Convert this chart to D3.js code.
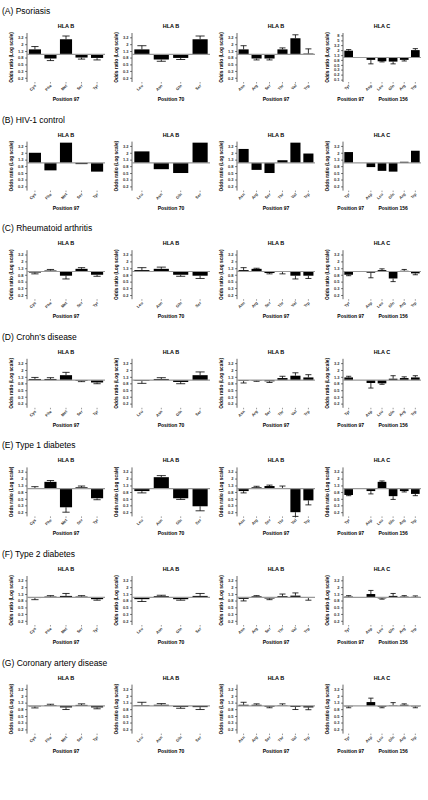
<!DOCTYPE html>
<html><head><meta charset="utf-8">
<script src="https://cdn.jsdelivr.net/npm/d3@7"></script>
<style>body{margin:0;background:#fff}text{font-family:Arial,"Liberation Sans",sans-serif}</style>
</head><body><svg id="c" width="428" height="800"></svg>
<script>
const rowTitles = ["(A) Psoriasis","(B) HIV-1 control","(C) Rheumatoid arthritis","(D) Crohn's disease","(E) Type 1 diabetes","(F) Type 2 diabetes","(G) Coronary artery disease"];
const panelTitles = ["HLA B","HLA B","HLA B","HLA C"];
const cats1 = ["Cys","Phe","Met","Ser","Tyr"];
const cats2 = ["Leu","Asn","Gln","Ser"];
const cats3 = ["Asn","Arg","Ser","Thr","Val","Trp"];
const cats4 = ["Tyr","","Asp","Leu","Gln","Arg","Trp"];
const ticks = [0.2,0.32,0.5,0.8,1.25,2,3.2];
const tickLabels = ["0.2","0.3","0.5","0.8","1.3","2","3.2"];
const ticksWide = [0.125,0.2,0.32,0.5,0.8,1.25,2,3.2,5,8];
const tickLabelsWide = ["0.1","0.2","0.3","0.5","0.8","1.3","2","3.2","5","8"];
// odds ratios and error-bar ends (null = none / empty slot)
const psoriasisOR  = [[1.4,0.75,2.8,0.8,0.78],[1.4,0.7,0.78,2.8],[1.4,0.75,0.75,1.4,3.0,1.05],[1.9,null,0.8,0.7,0.68,0.8,2.0]];
const psoriasisErr = [[1.7,0.65,3.5,0.72,0.68],[1.8,0.62,0.7,3.5],[1.8,0.68,0.68,1.55,3.8,1.45],[2.1,null,0.55,0.66,0.55,0.72,2.3]];
const hivOR  = [[2.0,0.6,4.0,0.92,0.55],[2.2,0.65,0.5,4.0],[2.6,0.62,0.5,1.2,4.0,1.9],[2.1,null,0.75,0.58,0.55,1.08,2.3]];
const hivErr = [[null,null,null,null,null],[null,null,null,null],[null,null,null,null,null,null],[null,null,null,null,null,null,null]];
const raOR  = [[0.93,1.07,0.75,1.2,0.8],[1.1,1.2,0.8,0.75],[1.1,1.2,0.9,0.97,0.75,0.75],[0.8,null,0.92,1.1,0.62,1.05,0.88]];
const raErr = [[0.85,1.15,0.6,1.3,0.72],[1.3,1.35,0.72,0.62],[1.3,1.25,0.85,0.85,0.6,0.62],[0.75,null,0.65,1.2,0.5,1.15,0.8]];
const crohnOR  = [[1.08,1.08,1.4,0.95,0.85],[0.95,1.08,0.88,1.4],[0.95,0.97,0.92,1.15,1.35,1.2],[1.2,null,0.82,0.8,1.1,1.15,1.2]];
const crohnErr = [[1.2,1.18,1.7,0.9,0.78],[0.8,1.18,0.78,1.75],[0.82,0.92,0.85,1.3,1.65,1.45],[1.3,null,0.58,0.75,1.35,1.25,1.35]];
const t1dOR  = [[1.03,1.6,0.28,1.1,0.52],[0.85,2.2,0.52,0.3],[0.85,1.1,1.2,1.05,0.2,0.45],[0.65,null,0.85,1.6,0.6,0.85,0.7]];
const t1dErr = [[1.15,1.75,0.2,1.2,0.47],[0.75,2.45,0.48,0.22],[0.75,1.18,1.28,1.2,0.15,0.33],[0.62,null,0.7,1.7,0.48,0.8,0.62]];
const t2dOR  = [[0.95,1.05,1.1,1.05,0.88],[0.88,1.08,0.88,1.1],[0.9,1.07,0.92,1.08,1.12,0.97],[1.05,null,1.25,0.93,1.1,1.05,1.03]];
const t2dErr = [[0.85,1.12,1.3,1.12,0.82],[0.75,1.15,0.82,1.3],[0.78,1.12,0.85,1.25,1.35,0.82],[1.12,null,1.6,0.88,1.3,1.12,1.1]];
const cadOR  = [[0.97,1.05,0.9,1.07,0.9],[1.05,1.08,0.93,0.92],[1.08,1.08,0.95,1.03,0.93,0.9],[0.97,null,1.3,0.95,1.03,1.08,0.97]];
const cadErr = [[0.87,1.12,0.78,1.15,0.82],[1.28,1.17,0.85,0.78],[1.28,1.15,0.88,1.15,0.78,0.77],[0.88,null,1.7,0.88,1.25,1.15,0.88]];

const allOR = [psoriasisOR,hivOR,raOR,crohnOR,t1dOR,t2dOR,cadOR];
const allErr = [psoriasisErr,hivErr,raErr,crohnErr,t1dErr,t2dErr,cadErr];
const cats = [cats1,cats2,cats3,cats4];

const svg = d3.select("#c");
const rowPitch = 108.6, panelX = [27,132,237,343], pw = 78;
rowTitles.forEach((rt, r) => {
  const y0 = r*rowPitch;
  const g = svg.append("g").attr("transform",`translate(0,${y0})`);
  g.append("text").attr("x",2).attr("y",14).attr("font-size",8.5).text(rt);
  for (let p=0;p<4;p++){
    const wide = (r===0 && p===3);
    const x0 = panelX[p], top=33, bot=82;
    const pg = g.append("g").attr("transform",`translate(${x0},0)`);
    const x = d3.scaleBand().domain(d3.range(cats[p].length)).range([0,pw]).paddingInner(0.22).paddingOuter(0.12);
    const y = d3.scaleLog().domain(wide?[0.1,10]:[0.15,4.3]).range([bot,top]);
    const tv = wide?ticksWide:ticks, tl = wide?tickLabelsWide:tickLabels;
    pg.append("text").attr("x",pw/2).attr("y",28).attr("text-anchor","middle").attr("font-size",5.5).attr("font-weight","bold").text(panelTitles[p]);
    const ax = pg.append("g").call(d3.axisLeft(y).tickValues(tv).tickFormat((d,i)=>tl[i]).tickSize(2).tickPadding(1.5));
    ax.select(".domain").attr("stroke-width",0.6).attr("d",`M0,${top}V${bot}`);
    ax.selectAll(".tick line").attr("stroke-width",0.5);
    ax.selectAll("text").attr("font-size",4).attr("font-weight","bold").attr("fill","#333");
    pg.append("text").attr("transform",`translate(-14,${(top+bot)/2}) rotate(-90)`).attr("text-anchor","middle").attr("font-size",4.8).attr("font-weight","bold").text("Odds ratio (Log scale)");
    const vals = allOR[r][p], errs = allErr[r][p];
    vals.forEach((v,i)=>{
      if(v==null) return;
      const y1=y(1), yv=y(v);
      pg.append("rect").attr("x",x(i)).attr("width",x.bandwidth()).attr("y",Math.min(y1,yv)).attr("height",Math.abs(yv-y1)).attr("fill","#000");
      const e=errs[i];
      if(e!=null){
        const cx=x(i)+x.bandwidth()/2, ye=y(e);
        pg.append("line").attr("x1",cx).attr("x2",cx).attr("y1",yv).attr("y2",ye).attr("stroke","#000").attr("stroke-width",0.8);
        pg.append("line").attr("x1",cx-x.bandwidth()*0.3).attr("x2",cx+x.bandwidth()*0.3).attr("y1",ye).attr("y2",ye).attr("stroke","#000").attr("stroke-width",0.8);
      }
    });
    pg.append("line").attr("x1",0).attr("x2",pw).attr("y1",y(1)).attr("y2",y(1)).attr("stroke","#999").attr("stroke-width",1.2);
    cats[p].forEach((c,i)=>{
      if(!c) return;
      const cx=x(i)+x.bandwidth()/2;
      pg.append("line").attr("x1",cx).attr("x2",cx).attr("y1",bot).attr("y2",bot+1.5).attr("stroke","#000").attr("stroke-width",0.4);
      pg.append("text").attr("transform",`translate(${cx+1.5},${bot+4}) rotate(-45)`).attr("text-anchor","end").attr("font-size",4).attr("font-weight","bold").attr("fill","#333").text(c);
    });
    if(p<3){
      const lab = p===1?"Position 70":"Position 97";
      pg.append("text").attr("x",pw/2).attr("y",101).attr("text-anchor","middle").attr("font-size",5).attr("font-weight","bold").text(lab);
    } else {
      pg.append("text").attr("x",x(0)+x.bandwidth()/2+2).attr("y",101).attr("text-anchor","middle").attr("font-size",5).attr("font-weight","bold").text("Position 97");
      pg.append("text").attr("x",(x(2)+x(6)+x.bandwidth())/2).attr("y",101).attr("text-anchor","middle").attr("font-size",5).attr("font-weight","bold").text("Position 156");
    }
  }
});
</script></body></html>
